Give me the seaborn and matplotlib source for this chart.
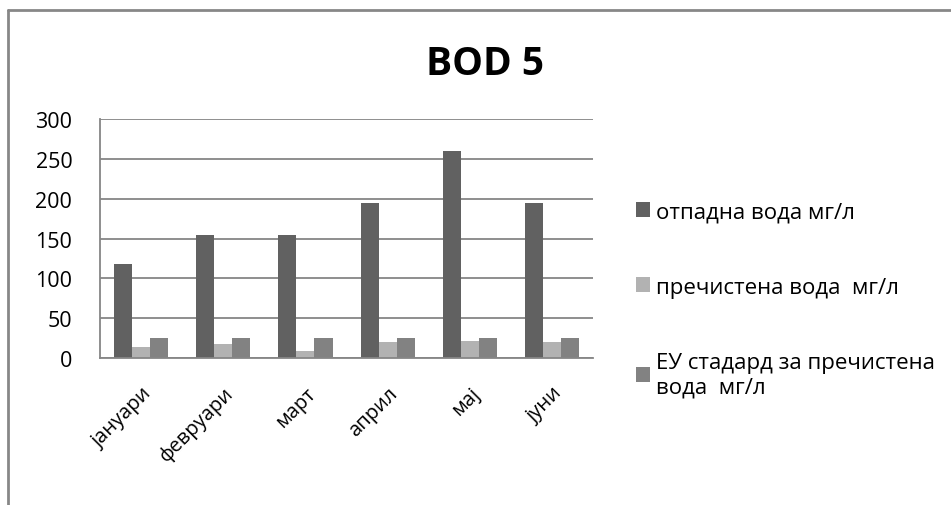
import pandas as pd
import matplotlib.pyplot as plt
import seaborn as sns
from matplotlib.patches import Patch
from matplotlib.lines import Line2D

months = ['јануари', 'февруари', 'март', 'април', 'мај', 'јуни']
otpadna = [118, 155, 154, 195, 260, 195]
prechistena = [14, 18, 9, 20, 21, 20]
eu_standard = [25, 25, 25, 25, 25, 25]
series_names = ['отпадна вода мг/л', 'пречистена вода  мг/л', 'ЕУ стадард за пречистена\nвода  мг/л']
colors = ['#616161', '#b2b2b2', '#828282']

rows = []
for name, vals in zip(series_names, [otpadna, prechistena, eu_standard]):
    for m, v in zip(months, vals):
        rows.append({'month': m, 'series': name, 'value': v})
df = pd.DataFrame(rows)

sns.set_style('white')
plt.rcParams['font.family'] = ['Open Sans', 'DejaVu Sans']
plt.rcParams['text.color'] = 'black'
plt.rcParams['xtick.color'] = 'black'
plt.rcParams['ytick.color'] = 'black'

fig = plt.figure(figsize=(9.51, 5.06), dpi=100)
ax = fig.add_axes([0.1052, 0.2905, 0.5184, 0.4723])

sns.barplot(data=df, x='month', y='value', hue='series', palette=colors,
            width=0.66, ax=ax, legend=False, saturation=1, edgecolor='none')

ax.set_ylim(0, 300)
ax.set_xlim(-0.5, len(months) - 0.5)
ax.set_yticks(range(0, 301, 50))
ax.yaxis.grid(True, color='#868686', linewidth=1.3)
ax.set_axisbelow(True)
ax.set_xlabel('')
ax.set_ylabel('')
for side in ['top', 'right']:
    ax.spines[side].set_visible(False)
for side in ['left', 'bottom']:
    ax.spines[side].set_color('#868686')
    ax.spines[side].set_linewidth(1.3)
ax.tick_params(axis='y', labelsize=15.5, length=0, pad=20, labelcolor='black')
ax.tick_params(axis='x', labelsize=14.5, length=0, pad=18, labelcolor='black')
plt.setp(ax.get_xticklabels(), rotation=45, ha='right', rotation_mode='anchor')

fig.text(0.51, 0.873, 'BOD 5', ha='center', va='center', fontsize=28, fontweight='bold')

handles = [Patch(facecolor=c, edgecolor='none') for c in colors]
fig.legend(handles, series_names, loc='upper left', bbox_to_anchor=(0.659, 0.618),
           frameon=False, fontsize=16, handlelength=0.65, handleheight=0.65,
           handletextpad=0.25, labelspacing=2.45, borderaxespad=0)

# outer chart frame
fig.add_artist(Line2D([0.0085, 0.0085], [0, 0.979], color='#878787', linewidth=2))
fig.add_artist(Line2D([0.0085, 1.0], [0.979, 0.979], color='#878787', linewidth=2))

fig.savefig('out.png', dpi=100)
